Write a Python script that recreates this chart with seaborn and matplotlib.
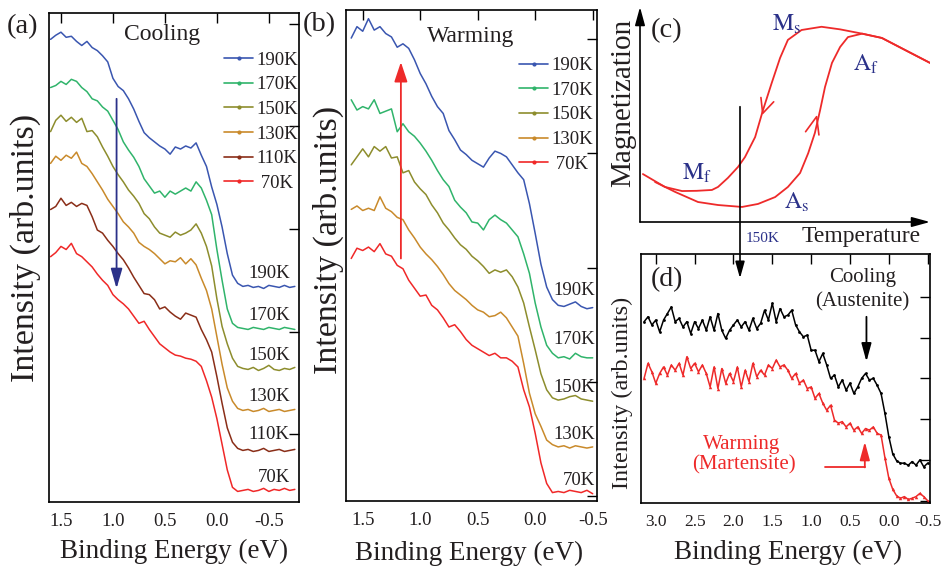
import numpy as np
import pandas as pd
import matplotlib
matplotlib.use("Agg")
import matplotlib.pyplot as plt
import seaborn as sns
from matplotlib.lines import Line2D
from matplotlib.patches import FancyArrowPatch

# ---------------------------------------------------------------- data
# (a) cooling series, binding energy grid 1.60 ... -0.75 eV (step 0.05)
energy_a = np.linspace(1.60, -0.75, 48)
labels_a = ["190K", "170K", "150K", "130K", "110K", "70K"]
cool_190 = [3.85, 3.89, 3.92, 3.87, 3.88, 3.83, 3.79, 3.83,
            3.77, 3.74, 3.69, 3.63, 3.47, 3.39, 3.35, 3.27,
            3.17, 3.05, 2.94, 2.89, 2.85, 2.81, 2.78, 2.73,
            2.80, 2.78, 2.81, 2.79, 2.84, 2.72, 2.61, 2.41,
            2.24, 2.02, 1.76, 1.55, 1.47, 1.44, 1.45, 1.43,
            1.44, 1.42, 1.45, 1.44, 1.43, 1.45, 1.43, 1.44]
cool_170 = [3.38, 3.40, 3.44, 3.41, 3.46, 3.44, 3.38, 3.34,
            3.27, 3.25, 3.19, 3.15, 3.06, 2.97, 2.85, 2.77,
            2.70, 2.61, 2.49, 2.42, 2.35, 2.37, 2.31, 2.37,
            2.34, 2.37, 2.40, 2.37, 2.46, 2.40, 2.28, 2.14,
            1.80, 1.50, 1.22, 1.08, 1.04, 1.03, 1.02, 1.04,
            1.03, 1.02, 1.04, 1.03, 1.02, 1.04, 1.03, 1.02]
cool_150 = [2.95, 3.06, 3.11, 3.05, 3.09, 3.04, 3.08, 2.95,
            2.96, 2.90, 2.80, 2.71, 2.61, 2.53, 2.46, 2.38,
            2.32, 2.25, 2.15, 2.10, 2.02, 1.96, 1.94, 1.92,
            1.97, 1.94, 1.96, 1.99, 2.05, 1.96, 1.83, 1.64,
            1.32, 1.05, 0.88, 0.74, 0.66, 0.64, 0.63, 0.65,
            0.62, 0.64, 0.67, 0.63, 0.62, 0.64, 0.63, 0.65]
cool_130 = [2.64, 2.71, 2.67, 2.72, 2.69, 2.75, 2.64, 2.61,
            2.54, 2.46, 2.38, 2.29, 2.22, 2.15, 2.07, 2.02,
            1.96, 1.87, 1.83, 1.80, 1.76, 1.71, 1.66, 1.69,
            1.68, 1.72, 1.66, 1.71, 1.65, 1.52, 1.40, 1.22,
            0.95, 0.68, 0.45, 0.32, 0.25, 0.23, 0.24, 0.22,
            0.23, 0.25, 0.22, 0.23, 0.24, 0.22, 0.23, 0.24]
cool_110 = [2.19, 2.22, 2.30, 2.23, 2.26, 2.22, 2.25, 2.23,
            2.12, 1.99, 1.96, 1.89, 1.83, 1.76, 1.70, 1.62,
            1.53, 1.45, 1.37, 1.36, 1.31, 1.22, 1.24, 1.19,
            1.15, 1.12, 1.18, 1.16, 1.14, 1.02, 0.92, 0.80,
            0.56, 0.30, 0.06, -0.08, -0.14, -0.16, -0.15, -0.17,
            -0.16, -0.14, -0.17, -0.16, -0.15, -0.17, -0.16, -0.15]
cool_70 = [1.73, 1.77, 1.83, 1.80, 1.86, 1.76, 1.73, 1.68,
           1.63, 1.56, 1.50, 1.45, 1.36, 1.31, 1.27, 1.22,
           1.15, 1.08, 1.10, 1.02, 0.95, 0.88, 0.84, 0.80,
           0.77, 0.76, 0.74, 0.73, 0.71, 0.66, 0.52, 0.36,
           0.15, -0.10, -0.35, -0.52, -0.56, -0.55, -0.54, -0.56,
           -0.55, -0.53, -0.56, -0.54, -0.55, -0.53, -0.55, -0.54]

# (b) warming series, binding energy grid 1.60 ... -0.50 eV (step 0.05)
energy_b = np.linspace(1.60, -0.50, 43)
labels_b = ["190K", "170K", "150K", "130K", "70K"]
warm_190 = [4.01, 4.11, 4.07, 4.18, 4.08, 4.11, 4.05, 4.02,
            3.93, 3.96, 3.92, 3.82, 3.70, 3.61, 3.50, 3.41,
            3.35, 3.20, 3.12, 3.03, 2.99, 2.94, 2.91, 2.88,
            2.96, 3.02, 3.00, 2.97, 2.90, 2.83, 2.77, 2.56,
            2.30, 2.03, 1.83, 1.72, 1.67, 1.66, 1.68, 1.70,
            1.66, 1.64, 1.65]
warm_170 = [3.47, 3.38, 3.41, 3.39, 3.47, 3.35, 3.37, 3.39,
            3.19, 3.26, 3.19, 3.15, 3.09, 3.02, 2.94, 2.85,
            2.77, 2.71, 2.59, 2.53, 2.48, 2.40, 2.39, 2.33,
            2.42, 2.46, 2.42, 2.39, 2.33, 2.27, 2.12, 1.95,
            1.69, 1.48, 1.32, 1.25, 1.21, 1.22, 1.20, 1.25,
            1.22, 1.21, 1.21]
warm_150 = [2.90, 2.97, 3.04, 2.97, 3.06, 3.02, 3.06, 2.96,
            2.97, 2.83, 2.85, 2.75, 2.69, 2.64, 2.55, 2.48,
            2.39, 2.33, 2.26, 2.20, 2.16, 2.10, 2.06, 2.01,
            1.95, 1.98, 1.96, 1.98, 1.92, 1.83, 1.69, 1.48,
            1.28, 1.07, 0.93, 0.86, 0.84, 0.85, 0.87, 0.88,
            0.85, 0.84, 0.83]
warm_130 = [2.51, 2.54, 2.50, 2.52, 2.50, 2.62, 2.52, 2.49,
            2.44, 2.42, 2.33, 2.26, 2.18, 2.12, 2.07, 2.01,
            1.94, 1.86, 1.80, 1.76, 1.72, 1.67, 1.63, 1.61,
            1.57, 1.58, 1.61, 1.56, 1.48, 1.40, 1.16, 0.90,
            0.72, 0.61, 0.49, 0.45, 0.43, 0.44, 0.42, 0.44,
            0.43, 0.42, 0.43]
warm_70 = [2.08, 2.17, 2.15, 2.18, 2.14, 2.21, 2.12, 2.10,
           2.02, 1.99, 1.89, 1.82, 1.75, 1.76, 1.67, 1.63,
           1.56, 1.48, 1.50, 1.44, 1.37, 1.32, 1.29, 1.26,
           1.23, 1.25, 1.21, 1.21, 1.18, 1.13, 0.93, 0.78,
           0.55, 0.29, 0.11, 0.03, 0.04, 0.03, 0.05, 0.04,
           0.03, 0.05, 0.02]

# (c) schematic M(T) hysteresis loop (arbitrary temperature / magnetization)
cooling_T = [100, 91.4, 83.4, 76.6, 69.0, 62.6, 55.7, 51.0, 48.3, 45.4,
             42.4, 39.7, 36.2, 33.8, 30.3, 26.9, 24.8, 19.5, 14.5, 8.6, 1.0]
cooling_M = [74.0, 80.0, 85.6, 87.6, 89.6, 90.8, 89.3, 84.7, 76.3, 64.6,
             52.0, 39.5, 30.2, 25.6, 20.5, 16.3, 14.9, 14.5, 14.4, 16.3, 22.3]
warming_T = [5.2, 12.1, 20.0, 26.9, 35.2, 40.7, 46.6, 51.0, 55.2, 58.0,
             60.3, 62.1, 63.8, 66.2, 69.0, 71.7, 76.6, 83.4, 91.4, 100]
warming_M = [18.6, 14.0, 9.3, 7.9, 7.0, 8.4, 11.6, 16.3, 22.8, 32.0,
             41.4, 52.0, 62.8, 74.0, 81.4, 86.0, 87.6, 85.6, 80.0, 74.0]

# (d) cooling vs warming at 150 K, binding energy grid 3.15 ... -0.50 eV
energy_d = np.linspace(3.15, -0.50, 74)
austenite = [4.39, 4.51, 4.31, 4.43, 4.14, 4.43, 4.59, 4.75, 4.39, 4.47,
             4.26, 4.39, 4.10, 4.39, 4.22, 4.43, 4.18, 4.51, 4.18, 4.59,
             4.18, 3.98, 4.18, 4.31, 4.43, 4.26, 4.39, 4.18, 4.47, 4.22,
             4.35, 4.67, 4.43, 4.84, 4.39, 4.71, 4.51, 4.55, 4.67, 4.31,
             4.14, 4.02, 4.06, 3.69, 3.69, 3.41, 3.61, 3.33, 3.00, 3.08,
             2.79, 2.96, 2.71, 2.88, 2.63, 2.79, 3.00, 3.12, 2.96, 3.00,
             2.83, 2.63, 2.14, 1.57, 1.15, 0.98, 0.92, 0.92, 0.87, 0.96,
             0.87, 1.00, 0.83, 0.92]
martensite = [3.00, 3.37, 3.16, 2.88, 3.12, 3.28, 3.08, 3.33, 3.20, 3.37,
              3.08, 3.53, 3.24, 3.37, 3.16, 3.33, 3.12, 2.79, 3.28, 2.75,
              3.24, 2.88, 3.12, 2.92, 3.28, 2.79, 3.20, 2.92, 3.37, 3.04,
              3.20, 3.08, 3.33, 3.24, 3.45, 3.28, 3.33, 3.20, 3.00, 3.12,
              2.88, 2.96, 2.75, 2.79, 2.51, 2.63, 2.39, 2.22, 2.34, 1.98,
              1.90, 1.94, 1.81, 1.90, 1.73, 1.81, 1.65, 1.77, 1.73, 1.81,
              1.65, 1.61, 1.05, 0.55, 0.28, 0.12, 0.06, 0.10, 0.03, 0.06,
              0.10, 0.18, 0.10, 0.00]

# ---------------------------------------------------------------- style
W, H = 941, 576
TEXT = "#231f20"
NAVY = "#2b3189"
RED = "#ee2a2a"
pal_a = {"190K": "#3a56b0", "170K": "#30b46b", "150K": "#8d8d2d",
         "130K": "#c98a2b", "110K": "#8a2e18", "70K": "#f02828"}

sns.set_theme(style="white")
plt.rcParams.update({
    "font.family": ["Liberation Serif", "DejaVu Serif"],
    "mathtext.fontset": "stix",
    "axes.unicode_minus": False,
    "text.color": TEXT,
})

fig = plt.figure(figsize=(W / 100, H / 100), dpi=100)


def box(left, top, right, bottom):
    return [left / W, 1 - bottom / H, (right - left) / W, (bottom - top) / H]


def fig_text(x, y, s, **kw):
    fig.text(x / W, 1 - y / H, s, **kw)


def style_spectrum(ax, xlim, ylim, xticks, yticks, fs):
    ax.set_xlim(*xlim)
    ax.set_ylim(*ylim)
    ax.set_xticks(xticks)
    ax.set_xticklabels([f"{t:.1f}" for t in xticks])
    ax.set_yticks(yticks)
    ax.set_yticklabels([])
    ax.tick_params(direction="in", top=True, right=True, length=7, width=1.0,
                   labelsize=fs, pad=8, color="black", labelcolor=TEXT)
    for sp in ax.spines.values():
        sp.set_linewidth(1.2)
        sp.set_color("black")
    ax.set_xlabel("")
    ax.set_ylabel("")


def long_frame(energy, series, names):
    return pd.DataFrame({
        "energy": np.tile(energy, len(names)),
        "intensity": np.concatenate([np.asarray(s, float) for s in series]),
        "temperature": np.repeat(names, len(energy)),
    })


def spectrum_legend(ax, names, anchor):
    handles = [Line2D([], [], color=pal_a[n], lw=1.2, marker=".", markersize=4)
               for n in names]
    ax.legend(handles, [(" " + n if len(n) == 3 else n) for n in names],
              loc="upper right", bbox_to_anchor=anchor, frameon=False,
              fontsize=13.5, handlelength=1.55, handletextpad=0.15,
              labelspacing=0.40, borderaxespad=0, borderpad=0, numpoints=1)


# ---------------------------------------------------------------- (a)
ax_a = fig.add_axes(box(49, 13, 299, 502))
df_a = long_frame(energy_a, [cool_190, cool_170, cool_150, cool_130, cool_110, cool_70], labels_a)
sns.lineplot(data=df_a, x="energy", y="intensity", hue="temperature", hue_order=labels_a,
             palette=pal_a, ax=ax_a, legend=False, linewidth=1.1, errorbar=None, sort=False)
style_spectrum(ax_a, (1.615, -0.79), (-0.663, 4.107), [1.5, 1.0, 0.5, 0.0, -0.5],
               [0, 1, 2, 3, 4], 13.5)
spectrum_legend(ax_a, labels_a, (0.995, 0.921))
ax_a.text(0.53, 3.90, "Cooling", fontsize=17, ha="center", va="center")
for name, yv in zip(labels_a, [1.57, 1.16, 0.77, 0.37, 0.0, -0.42]):
    ax_a.text(-0.70, yv, name, fontsize=13.5, ha="right", va="center")
ax_a.annotate("", xy=(0.965, 1.42), xytext=(0.965, 3.27),
              arrowprops=dict(arrowstyle="-|>,head_length=1.2,head_width=0.35",
                              mutation_scale=10, lw=1.3, color=NAVY,
                              shrinkA=0, shrinkB=0))

# ---------------------------------------------------------------- (b)
ax_b = fig.add_axes(box(345.7, 10, 596.7, 500.7))
df_b = long_frame(energy_b, [warm_190, warm_170, warm_150, warm_130, warm_70], labels_b)
sns.lineplot(data=df_b, x="energy", y="intensity", hue="temperature", hue_order=labels_b,
             palette=pal_a, ax=ax_b, legend=False, linewidth=1.1, errorbar=None, sort=False)
style_spectrum(ax_b, (1.648, -0.535), (-0.041, 4.256), [1.5, 1.0, 0.5, 0.0, -0.5],
               [0, 1, 2, 3, 4], 13.5)
spectrum_legend(ax_b, labels_b, (0.985, 0.904))
ax_b.text(0.565, 4.02, "Warming", fontsize=17, ha="center", va="center")
for name, yv in zip(labels_b, [1.80, 1.37, 0.95, 0.54, 0.14]):
    ax_b.text(-0.52, yv, name, fontsize=13.5, ha="right", va="center")
ax_b.annotate("", xy=(1.168, 3.80), xytext=(1.168, 2.08),
              arrowprops=dict(arrowstyle="-|>,head_length=1.2,head_width=0.4",
                              mutation_scale=10, lw=1.3, color=RED,
                              shrinkA=0, shrinkB=0))

# ---------------------------------------------------------------- (c)
ax_c = fig.add_axes(box(640, 7, 930, 222))
ax_c.set_xlim(0, 100)
ax_c.set_ylim(0, 100)
ax_c.axis("off")
sns.lineplot(x=cooling_T, y=cooling_M, sort=False, ax=ax_c, color=RED, lw=1.3, errorbar=None)
sns.lineplot(x=warming_T, y=warming_M, sort=False, ax=ax_c, color=RED, lw=1.3, errorbar=None)
ax_c.plot([41.7, 42.3, 46.1], [57.9, 50.5, 55.9], color=RED, lw=1.2)
ax_c.plot([57.1, 60.9, 61.7], [42.0, 49.0, 40.5], color=RED, lw=1.2)
for tip in [(0, 100), (100, 0)]:
    ax_c.annotate("", xy=tip, xytext=(0, 0), annotation_clip=False,
                  arrowprops=dict(arrowstyle="-|>,head_length=1.1,head_width=0.3",
                                  mutation_scale=10, lw=1.2, color="black",
                                  shrinkA=0, shrinkB=0))
ax_c.text(9.0, 89.0, "(c)", fontsize=20.5, ha="center", va="center")
ax_c.text(50.7, 92.0, r"$\mathrm{M_s}$", fontsize=17, color=NAVY, ha="center", va="center")
ax_c.text(77.9, 73.5, r"$\mathrm{A_f}$", fontsize=17, color=NAVY, ha="center", va="center")
ax_c.text(19.7, 22.8, r"$\mathrm{M_f}$", fontsize=17, color=NAVY, ha="center", va="center")
ax_c.text(54.1, 9.3, r"$\mathrm{A_s}$", fontsize=17, color=NAVY, ha="center", va="center")
fig_text(623, 103, "Magnetization", fontsize=21, rotation=90, ha="center", va="center")
fig_text(861, 237, "Temperature", fontsize=17, ha="center", va="center")
fig_text(763, 239, "150K", fontsize=11, color=NAVY, ha="center", va="center")

# ---------------------------------------------------------------- (d)
ax_d = fig.add_axes(box(641, 254, 930, 503.3))
sns.lineplot(x=energy_d, y=austenite, ax=ax_d, color="black", lw=1.1, marker=".",
             markersize=4, markeredgewidth=0, errorbar=None, sort=False)
sns.lineplot(x=energy_d, y=martensite, ax=ax_d, color=RED, lw=1.1, marker="^",
             markersize=2.5, markeredgewidth=0, errorbar=None, sort=False)
style_spectrum(ax_d, (3.19, -0.53), (-0.064, 6.05),
               [3.0, 2.5, 2.0, 1.5, 1.0, 0.5, 0.0, -0.5], [0, 1, 2, 3, 4, 5], 12.5)
ax_d.text(2.86, 5.41, "(d)", fontsize=20, ha="center", va="center")
ax_d.text(0.34, 5.47, "Cooling", fontsize=15, ha="center", va="center")
ax_d.text(0.34, 4.88, "(Austenite)", fontsize=15, ha="center", va="center")
ax_d.text(1.90, 1.39, "Warming", fontsize=15, color=RED, ha="center", va="center")
ax_d.text(1.86, 0.87, "(Martensite)", fontsize=15, color=RED, ha="center", va="center")
ax_d.annotate("", xy=(0.288, 3.41), xytext=(0.288, 4.51),
              arrowprops=dict(arrowstyle="-|>,head_length=1.1,head_width=0.3",
                              mutation_scale=10, lw=1.3, color="black",
                              shrinkA=0, shrinkB=0))
ax_d.plot([0.825, 0.309], [0.817, 0.817], color=RED, lw=1.3)
ax_d.annotate("", xy=(0.309, 1.446), xytext=(0.309, 0.817),
              arrowprops=dict(arrowstyle="-|>,head_length=1.1,head_width=0.3",
                              mutation_scale=10, lw=1.3, color=RED,
                              shrinkA=0, shrinkB=0))

# 150 K cut linking the loop to the spectra below
fig.add_artist(FancyArrowPatch((740 / W, 1 - 106.7 / H), (740 / W, 1 - 278.3 / H),
                               transform=fig.transFigure,
                               arrowstyle="-|>,head_length=1.0,head_width=0.28",
                               mutation_scale=10, lw=1.2, color="black",
                               shrinkA=0, shrinkB=0))

# ---------------------------------------------------------------- shared labels
fig_text(22, 27, "(a)", fontsize=20.5, ha="center", va="center")
fig_text(319, 25, "(b)", fontsize=20.5, ha="center", va="center")
fig_text(25, 248, "Intensity (arb.units)", fontsize=24.5, rotation=90, ha="center", va="center")
fig_text(328, 240, "Intensity (arb.units)", fontsize=24.5, rotation=90, ha="center", va="center")
fig_text(622, 393, "Intensity (arb.units)", fontsize=17.5, rotation=90, ha="center", va="center")
fig_text(174.5, 551, "Binding Energy (eV)", fontsize=19.5, ha="center", va="center")
fig_text(469, 553, "Binding Energy (eV)", fontsize=19.5, ha="center", va="center")
fig_text(788, 552, "Binding Energy (eV)", fontsize=19.5, ha="center", va="center")

fig.savefig("out.png", dpi=100)
